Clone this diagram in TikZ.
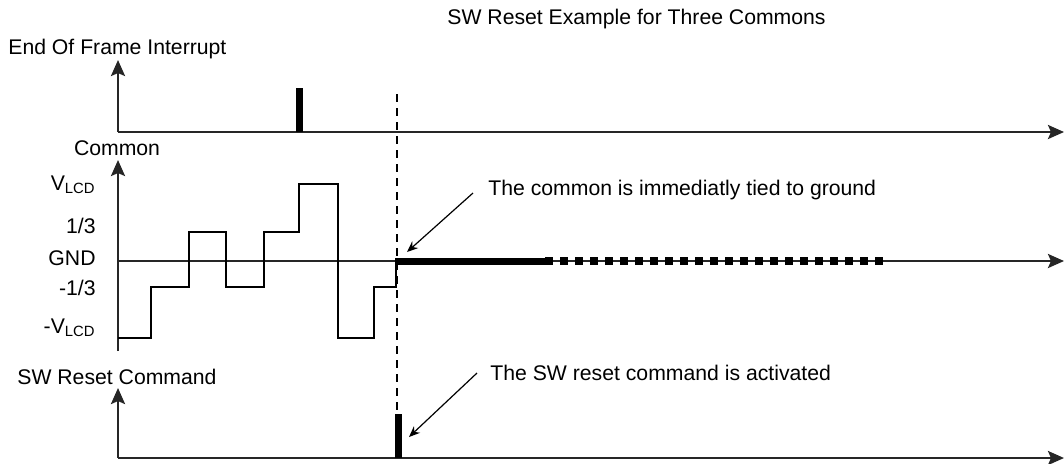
\documentclass[tikz,border=0pt]{standalone}
\usepackage{fontspec}
\setmainfont{Liberation Sans}
\usetikzlibrary{arrows.meta}
\tikzset{
  timingfig/.style={x=0.5pt,y=-0.5pt,
    every node/.style={font=\fontsize{10.6}{12.7}\selectfont,inner sep=0pt}},
  axisline/.style={draw=black!85,line width=1.3pt,
    -{Stealth[length=8pt,width=7pt,inset=1.5pt]}},
  wave/.style={line width=1.4pt,line join=miter},
  pulse/.style={fill=black},
  cursor/.style={line width=0.6pt,dash pattern=on 4pt off 3pt},
  grounded/.style={line width=3.5pt},
  pending/.style={line width=4pt,dash pattern=on 4pt off 3.5pt},
  levellabel/.style={anchor=base east},
  note/.style={anchor=base west},
  notearrow/.style={line width=0.6pt,-{Stealth[length=5.5pt,width=4.5pt]}},
}
\begin{document}
\begin{tikzpicture}[timingfig]
  \useasboundingbox (0,0) rectangle (1064,463);

  % title
  \node[anchor=base east] (title) at (826,24) {SW Reset Example for Three Commons};

  % end of frame interrupt
  \node[anchor=base west] (eoflabel) at (8,54) {End Of Frame Interrupt};
  \coordinate (eoforigin) at (118,132);
  \coordinate (eoftop) at (118,60);
  \coordinate (eofend) at (1064,132);
  \draw[axisline] (eoforigin) -- (eoftop);
  \draw[axisline] (eoforigin) -- (eofend);
  \fill[pulse] (296,88) rectangle (303,132);

  % common
  \node[anchor=base] (comlabel) at (117,155) {Common};
  \coordinate (combottom) at (118,351);
  \coordinate (comtop) at (118,160);
  \coordinate (gndstart) at (118,261);
  \coordinate (gndend) at (1064,261);
  \draw[axisline] (combottom) -- (comtop);
  \draw[axisline] (gndstart) -- (gndend);

  \node[levellabel] (vlcd) at (96,190) {V\textsubscript{LCD}};
  \node[levellabel] (third) at (96,233) {1/3};
  \node[levellabel] (gnd) at (96,265) {GND};
  \node[levellabel] (mthird) at (96,295) {-1/3};
  \node[levellabel] (mvlcd) at (96,333) {-V\textsubscript{LCD}};

  \draw[wave] (118,338) -| (151,287) -| (189,232) -| (226,287) -| (264,232)
    -| (299,184) -| (338,338) -| (374,287) -| (396,261);
  \draw[grounded] (395,261) -- (545,261);
  \draw[pending] (545,261) -- (887,261);

  % sw reset command
  \node[anchor=base west] (swlabel) at (17,384) {SW Reset Command};
  \coordinate (sworigin) at (118,458);
  \coordinate (swtop) at (118,388);
  \coordinate (swend) at (1064,458);
  \draw[axisline] (sworigin) -- (swtop);
  \draw[axisline] (sworigin) -- (swend);
  \fill[pulse] (395,414) rectangle (402,458);

  % reset instant
  \coordinate (cursortop) at (397,94);
  \coordinate (cursorbottom) at (397,456);
  \draw[cursor] (cursortop) -- (cursorbottom);

  % notes
  \node[note] (tienote) at (488,195) {The common is immediatly tied to ground};
  \coordinate (tiefrom) at (473,193);
  \coordinate (tieto) at (407,252);
  \draw[notearrow] (tiefrom) -- (tieto);

  \node[note] (swnote) at (490,380) {The SW reset command is activated};
  \coordinate (swfrom) at (477,373);
  \coordinate (swto) at (409,437);
  \draw[notearrow] (swfrom) -- (swto);
\end{tikzpicture}
\end{document}
